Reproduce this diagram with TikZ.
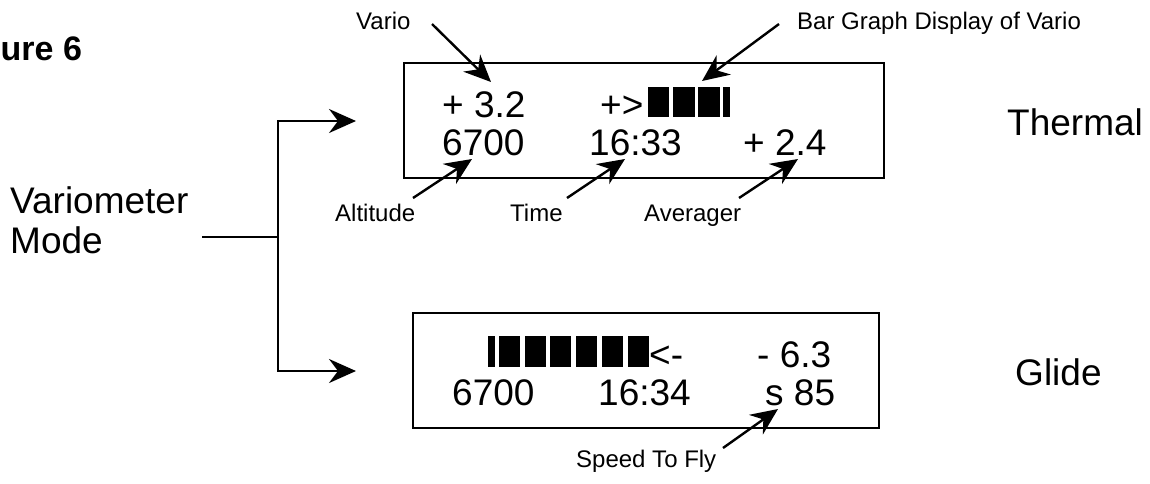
\documentclass[tikz,border=0pt]{standalone}
\usepackage{fontspec}
\setmainfont{Liberation Sans}
\usetikzlibrary{arrows.meta}
\begin{document}
\begin{tikzpicture}[x=1pt,y=-1pt,
  disp/.style={font=\fontsize{37}{40}\selectfont, anchor=base west, inner sep=0pt},
  lbl/.style={font=\fontsize{24}{28}\selectfont, anchor=base west, inner sep=0pt},
  title/.style={font=\fontsize{34}{36}\selectfont\bfseries, anchor=base west, inner sep=0pt},
  lcd/.style={draw, line width=2.5pt, inner sep=0pt, minimum width=#1, minimum height=115pt},
  conn/.style={line width=2.5pt},
  ptr/.style={line width=2.4pt, -{Stealth[length=27pt,width=24pt,inset=9pt]}},
  bar/.style={fill=black}
]
\useasboundingbox (0,0) rectangle (1150,483);

% title
\node[title] (fig) at (0.5,60) {ure 6};

% mode label
\node[disp] (vm1) at (10,213) {Variometer};
\node[disp] (vm2) at (10,253) {Mode};

% LCD boxes
\node[lcd=480pt] (thbox) at (644,120.5) {};
\node[lcd=466pt] (glbox) at (646,370.5) {};

% branch connectors
\coordinate (bstart) at (202,237);
\coordinate (bjoin) at (278,237);
\coordinate (thin) at (356,121);
\coordinate (glin) at (356,371);
\draw[conn] (bstart) -- (bjoin);
\draw[ptr, line width=2.5pt] (bjoin) |- (thin);
\draw[ptr, line width=2.5pt] (bjoin) |- (glin);

% thermal display
\node[disp] (tvario) at (442,117) {+ 3.2};
\node[disp] (tplus) at (600,117) {+>};
\fill[bar] (648,87) rectangle (669,117);
\fill[bar] (673,87) rectangle (695,117);
\fill[bar] (698,87) rectangle (720,117);
\fill[bar] (723,87) rectangle (730,117);
\node[disp] (talt) at (442,155) {6700};
\node[disp] (ttime) at (589,155) {16:33};
\node[disp] (tavg) at (743,155) {+ 2.4};
\node[disp] (thermal) at (1007,135) {Thermal};

% glide display
\fill[bar] (488,336) rectangle (495,367);
\foreach \i in {0,...,5} {
  \fill[bar] ({499+25.7*\i},336) rectangle ({520+25.7*\i},367);
}
\node[disp] (garr) at (649,367) {<-};
\node[disp] (gvario) at (757,367) {- 6.3};
\node[disp] (galt) at (452,405) {6700};
\node[disp] (gtime) at (598,405) {16:34};
\node[disp] (gstf) at (765,405) {s 85};
\node[disp] (glide) at (1015,385) {Glide};

% labels
\node[lbl] (lvario) at (356,29) {Vario};
\node[lbl] (lbar) at (797,29) {Bar Graph Display of Vario};
\node[lbl] (lalt) at (335,221) {Altitude};
\node[lbl] (ltime) at (510,221) {Time};
\node[lbl] (lavg) at (644,221) {Averager};
\node[lbl] (lstf) at (576,467) {Speed To Fly};

% label pointers
\coordinate (a1s) at (432,24);  \coordinate (a1e) at (491,82);
\coordinate (a2s) at (779,24);  \coordinate (a2e) at (702,81);
\coordinate (a3s) at (413,198); \coordinate (a3e) at (472,159);
\coordinate (a4s) at (567,198); \coordinate (a4e) at (625,159);
\coordinate (a5s) at (739,198); \coordinate (a5e) at (798,159);
\coordinate (a6s) at (723,448); \coordinate (a6e) at (778,409);
\draw[ptr] (a1s) -- (a1e);
\draw[ptr] (a2s) -- (a2e);
\draw[ptr] (a3s) -- (a3e);
\draw[ptr] (a4s) -- (a4e);
\draw[ptr] (a5s) -- (a5e);
\draw[ptr] (a6s) -- (a6e);
\end{tikzpicture}
\end{document}
